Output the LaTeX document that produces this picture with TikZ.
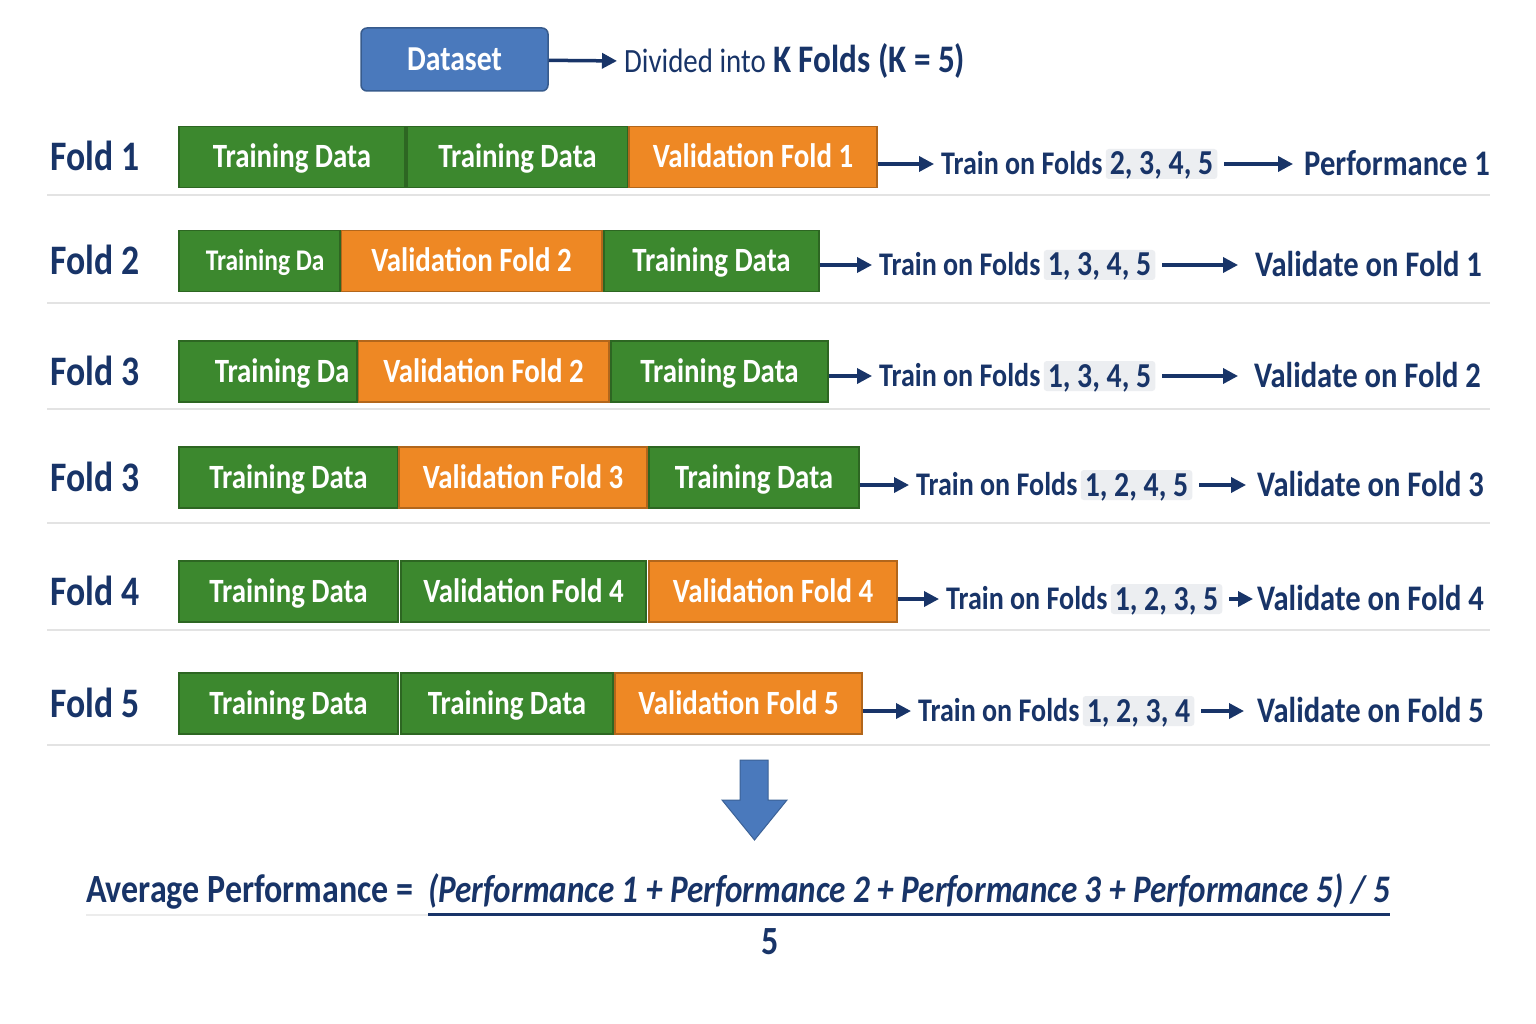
\documentclass[tikz,border=0pt]{standalone}
\usepackage{fontspec}
\setmainfont{Carlito}[FakeStretch=0.85]
\usetikzlibrary{positioning,arrows.meta}

\definecolor{navy}{RGB}{24,52,104}
\definecolor{trgreen}{RGB}{60,136,46}
\definecolor{valorange}{RGB}{238,136,36}
\definecolor{dsblue}{RGB}{74,121,188}
\definecolor{numgray}{RGB}{236,238,241}

\tikzset{
  box/.style={draw,line width=1.5pt,minimum height=61pt,inner sep=0pt,text=white,
    font=\fontsize{34}{40}\selectfont\bfseries,text height=22pt,text depth=0pt},
  cuttext/.style={anchor=west,inner sep=0pt,minimum width=0pt,minimum height=0pt,text=white,
    text height=20pt,text depth=0pt},
  foldlbl/.style={anchor=west,inner sep=0pt,text=navy,
    font=\fontsize{42}{48}\selectfont\bfseries,text height=27pt,text depth=0pt},
  rtext/.style={anchor=west,inner sep=0pt,text=navy,
    font=\fontsize{33}{38}\selectfont\bfseries,text height=21pt,text depth=0pt},
  numtag/.style={rtext,font=\fontsize{35}{40}\selectfont\bfseries,text height=22pt,
    fill=numgray,inner sep=4pt,rounded corners=3pt},
  restext/.style={rtext,font=\fontsize{36}{42}\selectfont\bfseries,text height=23pt},
  avgtext/.style={anchor=west,inner sep=0pt,text=navy,
    font=\fontsize{40}{46}\selectfont\bfseries,text height=25pt,text depth=0pt},
  flow/.style={navy,line width=3.5pt,-{Triangle[length=15pt,width=15pt]}},
  sep/.style={gray!22,line width=2.5pt}
}

\begin{document}
\begin{tikzpicture}[x=1pt,y=-1pt]
  \useasboundingbox (0,0) rectangle (1536,1024);
  \fill[white] (0,0) rectangle (1536,1024);

  % dataset
  \node[draw=dsblue!75!black,fill=dsblue,line width=1.5pt,rounded corners=6pt,
    minimum width=187pt,minimum height=63pt,inner sep=0pt,text=white,
    font=\fontsize{35}{40}\selectfont\bfseries,text height=22pt,text depth=0pt] (ds) at (454.5,59.5) {Dataset};
  \node[anchor=west,inner sep=0pt,text=navy,font=\fontsize{39}{44}\selectfont\bfseries,
    text height=24pt,text depth=0pt] (div) at (624,61)
    {{\mdseries\fontsize{34}{40}\selectfont Divided into} K Folds (K = 5)};
  \draw[flow,shorten >=7pt] (ds) -- (div.west);

  % separators
  \foreach \y in {195,303,409,523,630,745}
    \draw[sep] (47,\y) -- (1490,\y);

  % fold boxes
  \foreach \r/\k/\y/\a/\b/\c/\t in {
      1/1/157/179/405/trgreen/Training Data, 1/2/157/407/628/trgreen/Training Data,
      1/3/157/629/877/valorange/Validation Fold 1,
      2/2/261/341/602/valorange/Validation Fold 2, 2/3/261/604/819/trgreen/Training Data,
      3/2/371.5/358/609/valorange/Validation Fold 2, 3/3/371.5/611/828/trgreen/Training Data,
      4/1/477.5/179/398/trgreen/Training Data, 4/2/477.5/399/647/valorange/Validation Fold 3,
      4/3/477.5/649/859/trgreen/Training Data,
      5/1/591.5/179/398/trgreen/Training Data, 5/2/591.5/401/646/trgreen/Validation Fold 4,
      5/3/591.5/649/897/valorange/Validation Fold 4,
      6/1/703.5/179/398/trgreen/Training Data, 6/2/703.5/401/613/trgreen/Training Data,
      6/3/703.5/615/862/valorange/Validation Fold 5} {
    \node[box,fill=\c,draw=\c!75!black,minimum width={(\b-\a)*1pt}] (b\r\k) at ({(\a+\b)/2},\y) {\t};
  }

  % cut-off boxes
  \node[box,fill=trgreen,draw=trgreen!75!black,minimum width=161pt,
    path picture={\node[cuttext,font=\fontsize{30}{36}\selectfont\bfseries]
      at ([xshift=26pt]path picture bounding box.west) {Training Da};}]
    (b21) at (259.5,261) {};
  \node[box,fill=trgreen,draw=trgreen!75!black,minimum width=178pt,
    path picture={\node[cuttext,font=\fontsize{34}{40}\selectfont\bfseries,text height=22pt]
      at ([xshift=35pt]path picture bounding box.west) {Training Da};}]
    (b31) at (268,371.5) {};

  % labels and results
  \foreach \r/\lbl/\y/\ty/\tx/\nums/\rx/\g/\res in {
      1/Fold 1/157/164/941/{2, 3, 4, 5}/1304/11/Performance 1,
      2/Fold 2/261/265/879/{1, 3, 4, 5}/1255/17/Validate on Fold 1,
      3/Fold 3/371.5/376/879/{1, 3, 4, 5}/1254/16/Validate on Fold 2,
      4/Fold 3/477.5/485/916/{1, 2, 4, 5}/1257/11/Validate on Fold 3,
      5/Fold 4/591.5/599/946/{1, 2, 3, 5}/1257/4/Validate on Fold 4,
      6/Fold 5/703.5/711/918/{1, 2, 3, 4}/1257/13/Validate on Fold 5} {
    \node[foldlbl] (f\r) at (50,\y) {\lbl};
    \node[rtext] (tr\r) at (\tx,\ty) {Train on Folds};
    \node[numtag,right=3pt of tr\r] (n\r) {\nums};
    \node[restext] (res\r) at (\rx,\ty) {\res};
    \draw[flow,shorten >=7pt] (b\r3.east |- tr\r.west) -- (tr\r.west);
    \draw[flow,shorten <=7pt,shorten >={\g pt}] (n\r.east) -- (res\r.west);
  }

  % down arrow
  \filldraw[fill=dsblue,draw=dsblue!80!black,line width=1pt]
    (740,760) -- (768,760) -- (768,800) -- (787,800) -- (754.5,840) -- (722,800) -- (740,800) -- cycle;

  % average
  \node[avgtext] (avg) at (86,890) {Average Performance =};
  \node[avgtext,font=\fontsize{39}{46}\selectfont\bfseries\itshape] (sum) at (428,890)
    {(Performance 1 + Performance 2 + Performance 3 + Performance 5) / 5};
  \draw[gray!15,line width=2pt] ([yshift=-12pt]avg.south west) -- ([yshift=-12pt]sum.south west);
  \draw[navy,line width=3pt] ([yshift=-12pt]sum.south west) -- ([yshift=-12pt]sum.south east);
  \node[avgtext,anchor=center] (den) at (770,942) {5};
\end{tikzpicture}
\end{document}
